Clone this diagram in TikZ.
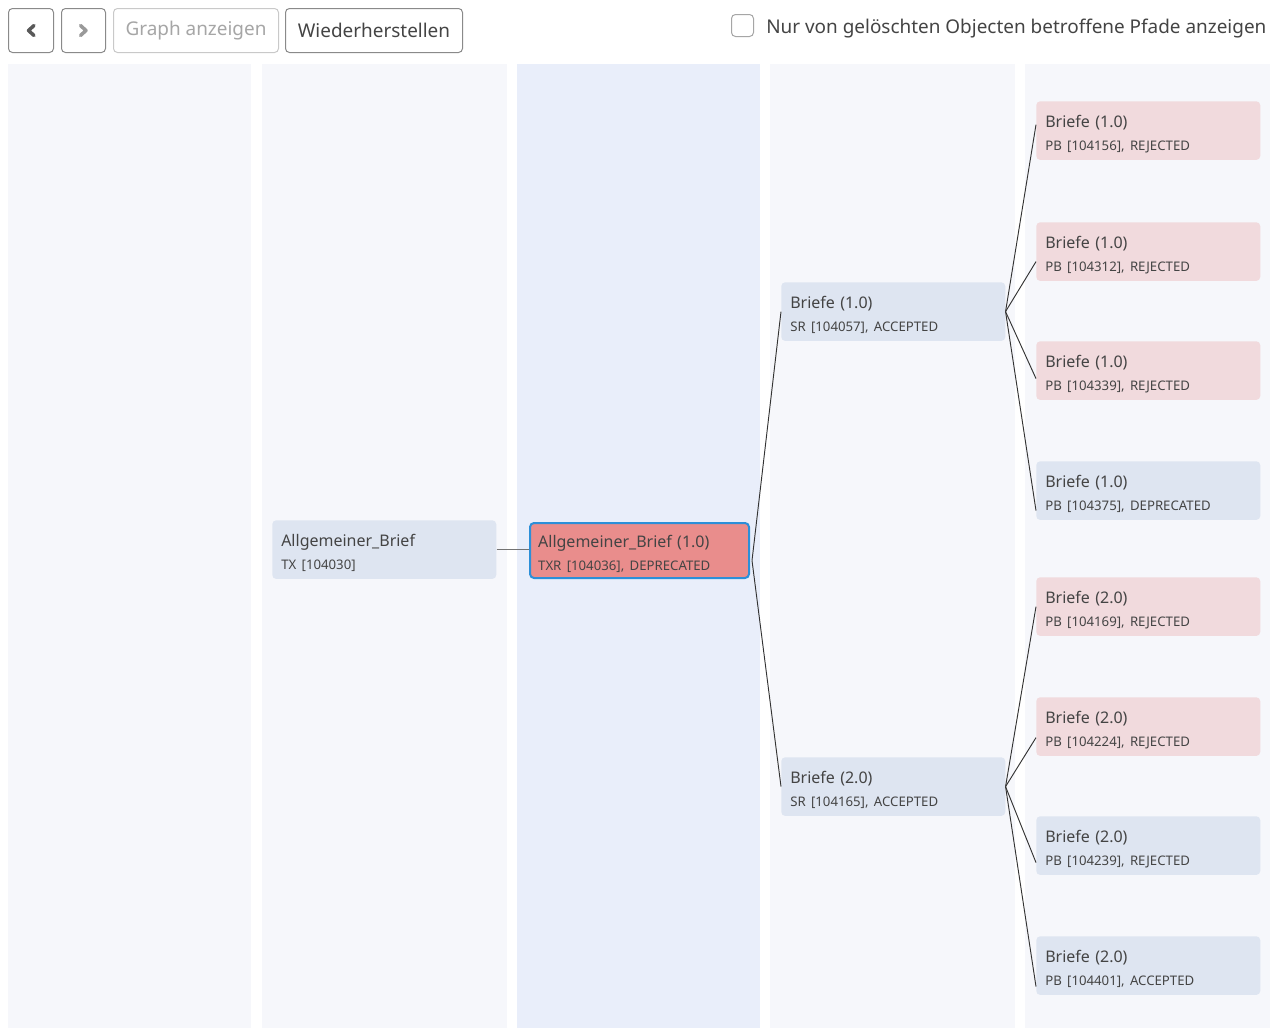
\documentclass[tikz,border=0pt]{standalone}
\usepackage{fontspec}
\setmainfont{Noto Sans}
\usetikzlibrary{calc}
\definecolor{colbg}{HTML}{F6F7FB}
\definecolor{colhl}{HTML}{E9EEFA}
\definecolor{cardbg}{HTML}{DEE5F1}
\definecolor{rejbg}{HTML}{F1DADD}
\definecolor{selbg}{HTML}{E98D8C}
\definecolor{selbd}{HTML}{2C8FD8}
\definecolor{txt}{HTML}{444444}
\definecolor{btnbd}{HTML}{8A8A8A}
\definecolor{btnoff}{HTML}{C9C9C9}
\newcommand\cardtext[2]{\mbox{\rule{0pt}{14pt}#1}\\\mbox{\fontsize{9.9}{11}\selectfont #2}}
\begin{document}
\begin{tikzpicture}[x=0.75pt,y=-0.75pt,
  card/.style={rounded corners=3pt, fill=cardbg, minimum width=168pt, minimum height=44pt,
    inner xsep=6.75pt, inner ysep=0pt, align=left, text width=154.5pt, anchor=north west,
    font=\fontsize{12}{17}\selectfont, text=txt},
  rej/.style={card, fill=rejbg},
  sel/.style={card, fill=selbg, draw=selbd, line width=1.5pt, minimum width=164.25pt, minimum height=41.25pt, text width=152pt, inner xsep=5.5pt},
  btn/.style={draw=btnbd, fill=white, rounded corners=3pt, anchor=north west, inner sep=0pt, line width=0.75pt,
    font=\fontsize{14.2}{16}\selectfont, text=txt},
  edge/.style={draw=black!80, line width=0.7pt}]
\useasboundingbox (0,0) rectangle (1277,1028);
\fill[white] (0,0) rectangle (1277,1028);
% columns
\fill[colbg] (8,64) rectangle (251,1028);
\fill[colbg] (262,64) rectangle (507,1028);
\fill[colhl] (517,64) rectangle (760,1028);
\fill[colbg] (770,64) rectangle (1015,1028);
\fill[colbg] (1025,64) rectangle (1270,1028);
% toolbar
\node[btn, minimum width=33.75pt, minimum height=33pt] (bprev) at (8,8) {};
\draw[line width=2.6pt, color=black!65, line cap=round, line join=round] ($(bprev.center)+(3,-5)$) -- ($(bprev.center)+(-2.5,0)$) -- ($(bprev.center)+(3,5)$);
\node[btn, minimum width=33pt, minimum height=33pt] (bnext) at (61,8) {};
\draw[line width=2.6pt, color=black!40, line cap=round, line join=round] ($(bnext.center)+(-3,-5)$) -- ($(bnext.center)+(2.5,0)$) -- ($(bnext.center)+(-3,5)$);
\node[btn, draw=btnoff, text=black!35, minimum width=123.75pt, minimum height=33pt] (bgraph) at (113,8) {Graph anzeigen};
\node[btn, minimum width=132.75pt, minimum height=33pt] (bwieder) at (285,8) {Wiederherstellen};
\node[draw=black!35, fill=white, rounded corners=3pt, line width=0.75pt, minimum size=16.5pt, inner sep=0pt, anchor=north west] (chk) at (731,14) {};
\node[anchor=base west, inner sep=0pt, font=\fontsize{14.2}{16}\selectfont, text=txt] (chklbl) at (766,33) {Nur von gelöschten Objecten betroffene Pfade anzeigen};
% nodes
\node[card] (tx) at (272,520) {\cardtext{Allgemeiner\_Brief}{TX [104030]}};
\node[sel] (txr) at (529,522) {\cardtext{Allgemeiner\_Brief (1.0)}{TXR [104036], DEPRECATED}};
\node[card] (sr1) at (781,282) {\cardtext{Briefe (1.0)}{SR [104057], ACCEPTED}};
\node[card] (sr2) at (781,757) {\cardtext{Briefe (2.0)}{SR [104165], ACCEPTED}};
\node[rej] (p1) at (1036,101) {\cardtext{Briefe (1.0)}{PB [104156], REJECTED}};
\node[rej] (p2) at (1036,222) {\cardtext{Briefe (1.0)}{PB [104312], REJECTED}};
\node[rej] (p3) at (1036,341) {\cardtext{Briefe (1.0)}{PB [104339], REJECTED}};
\node[card] (p4) at (1036,461) {\cardtext{Briefe (1.0)}{PB [104375], DEPRECATED}};
\node[rej] (p5) at (1036,577) {\cardtext{Briefe (2.0)}{PB [104169], REJECTED}};
\node[rej] (p6) at (1036,697) {\cardtext{Briefe (2.0)}{PB [104224], REJECTED}};
\node[card] (p7) at (1036,816) {\cardtext{Briefe (2.0)}{PB [104239], REJECTED}};
\node[card] (p8) at (1036,936) {\cardtext{Briefe (2.0)}{PB [104401], ACCEPTED}};
% connectors
\draw[draw=black!55, line width=1pt] (tx.east) -- (tx.east -| txr.west);
\draw[edge] ($(txr.east)+(2,10)$) -- (sr1.west);
\draw[edge] ($(txr.east)+(2,10)$) -- (sr2.west);
\draw[edge] (sr1.east) -- ($(p1.west)+(0,-6)$);
\draw[edge] (sr1.east) -- ($(p2.west)+(0,10)$);
\draw[edge] (sr1.east) -- ($(p3.west)+(0,8)$);
\draw[edge] (sr1.east) -- ($(p4.west)+(0,20)$);
\draw[edge] (sr2.east) -- ($(p5.west)+(0,0)$);
\draw[edge] (sr2.east) -- ($(p6.west)+(0,11)$);
\draw[edge] (sr2.east) -- ($(p7.west)+(0,17)$);
\draw[edge] (sr2.east) -- ($(p8.west)+(0,21)$);
\end{tikzpicture}
\end{document}
